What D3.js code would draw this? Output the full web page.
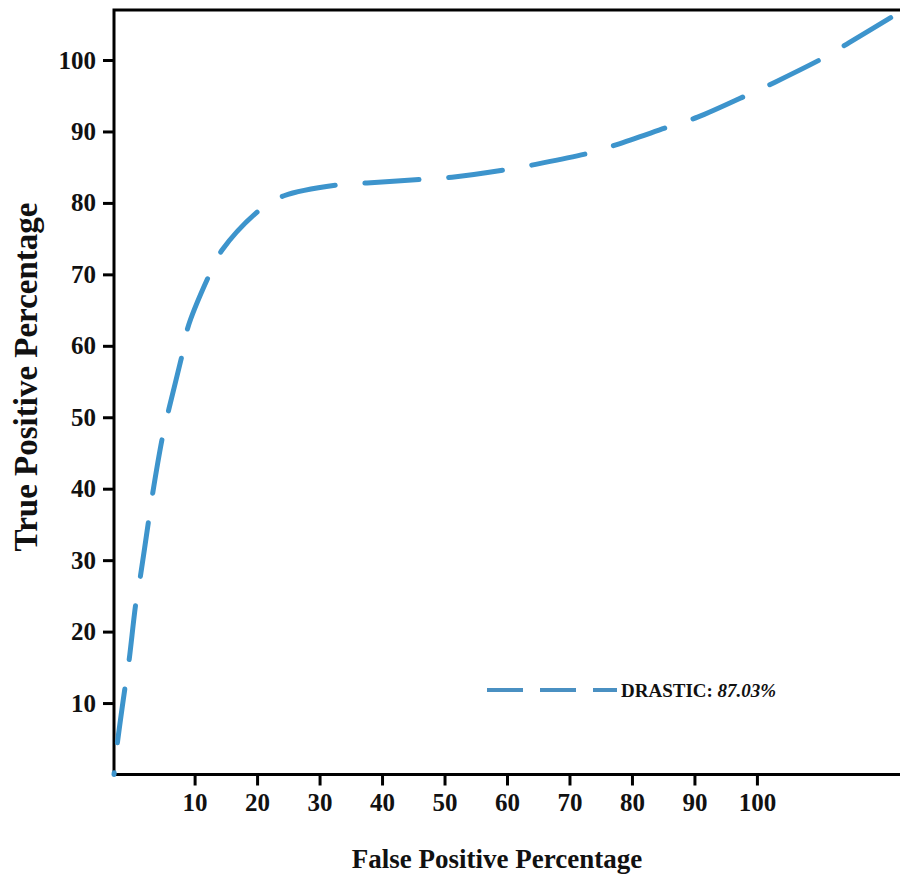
<!DOCTYPE html>
<html>
<head>
<meta charset="utf-8">
<script src="https://cdn.jsdelivr.net/npm/d3@7"></script>
<style>
  body { margin: 0; background: #fff; }
  text { font-family: "Liberation Serif", "Times New Roman", serif; font-weight: bold; fill: #111; }
</style>
</head>
<body>
<script>
// ROC curve
var fpr = [-2.9, -2.4, -1.1, -0.5, 0.6, 1.3, 2.7, 3.3, 4.9, 5.9, 8.1, 8.9, 12.5, 14.4, 20.8, 24.3,
  33.7, 37.6, 47.2, 51.2, 60.6, 64.6, 73.7, 77.7, 86.7, 90.5, 99.2, 102.9, 111.3, 114.7, 122.9];
var tpr = [0, 4.1, 12.4, 15.9, 24.0, 27.6, 35.9, 39.4, 47.4, 51.2, 59.1, 62.5, 70.2, 73.4, 79.3, 81.0,
  82.6, 82.8, 83.35, 83.6, 84.75, 85.4, 87.1, 88.2, 90.9, 92.0, 95.4, 96.9, 100.6, 102.4, 106.7];
var xTicks = [10, 20, 30, 40, 50, 60, 70, 80, 90, 100];
var yTicks = [10, 20, 30, 40, 50, 60, 70, 80, 90, 100];
var seriesName = 'DRASTIC: ';
var seriesScore = '87.03%';

var app = {
  init: function() {
    app.render();
  },
  render: function() {
    var width = 900;
    var height = 875;

    var left = 114, right = 900, top = 10, bottom = 774.5;

    var svg = d3.select('body').append('svg')
      .attr('width', width)
      .attr('height', height);

    var x = d3.scaleLinear().domain([-2.9, 122.9]).range([left, right]);
    var y = d3.scaleLinear().domain([0, 107]).range([bottom, top]);

    // frame (right side runs off the picture)
    svg.append('path')
      .attr('d', 'M' + (right + 4) + ',' + top + 'H' + left + 'V' + bottom + 'H' + (right + 4))
      .attr('fill', 'none')
      .attr('stroke', '#000')
      .attr('stroke-width', 3);

    // y axis
    var yAxis = svg.append('g')
      .attr('transform', 'translate(' + left + ',0)')
      .call(d3.axisLeft(y).tickValues(yTicks).tickSize(11).tickPadding(7).tickFormat(d3.format('d')));
    yAxis.select('.domain').remove();
    yAxis.selectAll('line').attr('stroke', '#000').attr('stroke-width', 3);
    yAxis.selectAll('text')
      .attr('font-size', 25)
      .attr('font-family', '"Liberation Serif", serif')
      .attr('font-weight', 'bold')
      .attr('fill', '#111');

    // x axis
    var xAxis = svg.append('g')
      .attr('transform', 'translate(0,' + bottom + ')')
      .call(d3.axisBottom(x).tickValues(xTicks).tickSize(11).tickPadding(8).tickFormat(d3.format('d')));
    xAxis.select('.domain').remove();
    xAxis.selectAll('line').attr('stroke', '#000').attr('stroke-width', 3);
    xAxis.selectAll('text')
      .attr('font-size', 25)
      .attr('font-family', '"Liberation Serif", serif')
      .attr('font-weight', 'bold')
      .attr('fill', '#111');

    // the curve
    var pts = fpr.map(function(d, i) { return [d, tpr[i]]; });
    var line = d3.line()
      .x(function(d) { return x(d[0]); })
      .y(function(d) { return y(d[1]); })
      .curve(d3.curveCatmullRom.alpha(0.5));

    svg.append('path')
      .datum(pts)
      .attr('d', line)
      .attr('fill', 'none')
      .attr('stroke', '#3d94cc')
      .attr('stroke-width', 5)
      .attr('stroke-linecap', 'round')
      .attr('stroke-dasharray', '54 30')
      .attr('stroke-dashoffset', 52);

    // legend
    svg.append('line')
      .attr('x1', 487).attr('x2', 617)
      .attr('y1', 690).attr('y2', 690)
      .attr('stroke', '#4a90c2')
      .attr('stroke-width', 4)
      .attr('stroke-dasharray', '36 17');

    var lg = svg.append('text')
      .attr('x', 621)
      .attr('y', 697)
      .attr('font-size', 19);
    lg.append('tspan').text(seriesName);
    lg.append('tspan').attr('font-style', 'italic').text(seriesScore);

    // axis titles
    svg.append('text')
      .attr('x', 497)
      .attr('y', 868)
      .attr('text-anchor', 'middle')
      .attr('font-size', 27)
      .text('False Positive Percentage');

    svg.append('text')
      .attr('transform', 'translate(37,377) rotate(-90)')
      .attr('text-anchor', 'middle')
      .attr('font-size', 33)
      .text('True Positive Percentage');
  }
};

app.init();
</script>
</body>
</html>
